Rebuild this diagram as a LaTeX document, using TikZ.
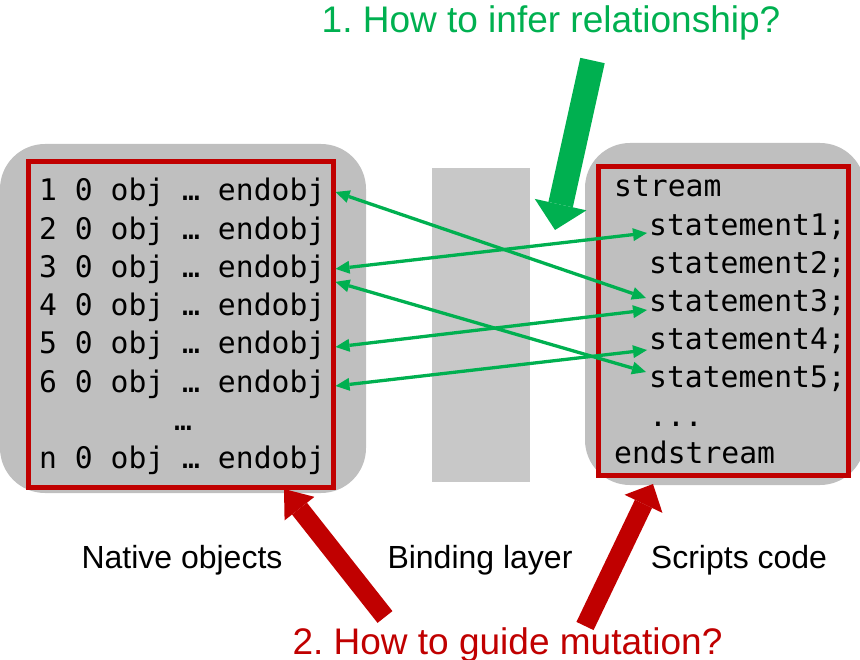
\documentclass[tikz,border=0pt]{standalone}
\usepackage{fontspec}
\setmainfont{Liberation Sans}
\newfontfamily\codefont{DejaVu Sans Mono}
\usetikzlibrary{arrows.meta,calc}
\frenchspacing

\definecolor{boxgray}{HTML}{BFBFBF}
\definecolor{layergray}{HTML}{C8C8C8}
\definecolor{hotred}{HTML}{C00000}
\definecolor{linkgreen}{HTML}{00B050}

\begin{document}
\begin{tikzpicture}[x=1pt,y=-1pt,
  panel/.style={fill=boxgray, rounded corners=45pt, inner sep=0pt},
  frame/.style={draw=hotred, line width=5pt, inner sep=0pt},
  codeline/.style={font=\codefont\fontsize{29.7}{30}\selectfont, anchor=base west,
                   inner sep=0pt, text height=21pt, text depth=6pt},
  partlabel/.style={font=\fontsize{32}{34}\selectfont, anchor=base, inner sep=0pt},
  question/.style={font=\fontsize{37}{40}\selectfont, anchor=base, inner sep=0pt},
  link/.style={draw=linkgreen, line width=3.3pt,
    {Triangle[length=14pt,width=13pt,line width=0pt]}-{Triangle[length=14pt,width=13pt,line width=0pt]}},
  fatarrow/.style={line width=#1, line cap=butt}
]
\useasboundingbox (0,0) rectangle (860,660);
\clip (0,0) rectangle (860,660);

% panels and the binding layer
\node[panel, minimum width=366pt, minimum height=349pt] (lpanel) at (183,318.5) {};
\node[panel, minimum width=280pt, minimum height=342pt] (rpanel) at (725,314) {};
\node[fill=layergray, inner sep=0pt, minimum width=98pt, minimum height=314pt] (layer) at (481,325) {};

% red frames
\node[frame, minimum width=305pt, minimum height=325pt] (lred) at (180.5,324.5) {};
\node[frame, minimum width=250pt, minimum height=308pt] (rred) at (723,321) {};

% native objects
\node[codeline] (o1) at (39,201)   {1 0 obj … endobj};
\node[codeline] (o2) at (39,239.2) {2 0 obj … endobj};
\node[codeline] (o3) at (39,277.4) {3 0 obj … endobj};
\node[codeline] (o4) at (39,315.6) {4 0 obj … endobj};
\node[codeline] (o5) at (39,353.8) {5 0 obj … endobj};
\node[codeline] (o6) at (39,392)   {6 0 obj … endobj};
\node[codeline, anchor=base] (odots) at (183,430.2) {…};
\node[codeline] (on) at (39,468.4) {n 0 obj … endobj};

% script stream
\node[codeline] (stream) at (614,197) {stream};
\node[codeline] (s1) at (649,236) {statement1;};
\node[codeline] (s2) at (649,274) {statement2;};
\node[codeline] (s3) at (649,312) {statement3;};
\node[codeline] (s4) at (649,350) {statement4;};
\node[codeline] (s5) at (649,388) {statement5;};
\node[codeline] (sdots) at (649,426) {...};
\node[codeline] (endstream) at (614,464) {endstream};

% relationships between objects and statements
\draw[link] ($(o1.east -| lred.east)+(0,-1.5)$) -- ($(s3.west)+(-3,-6.5)$);
\draw[link] ($(o3.east -| lred.east)+(0,-1)$)   -- ($(s1.west)+(-2,4.5)$);
\draw[link] ($(o3.east -| lred.east)+(0,12)$)   -- ($(s5.west)+(-3,-8.5)$);
\draw[link] ($(o5.east -| lred.east)+(0,0.7)$)  -- ($(s3.west)+(-2,5.5)$);
\draw[link] ($(o6.east -| lred.east)+(0,1.5)$)  -- ($(s4.west)+(-2,7.5)$);

% captions
\node[partlabel] (lnative) at (182,568) {Native objects};
\node[partlabel] (lbinding) at (480,568) {Binding layer};
\node[partlabel] (lscripts) at (739,568) {Scripts code};

% questions
\node[question, text=linkgreen] (q1) at (551,33) {1. How to infer relationship?};
\node[question, text=hotred] (q2) at (507.5,654) {2. How to guide mutation?};

% big arrows
\coordinate (g0) at (592.5,60.5);
\coordinate (g1) at (555,230);
\draw[fatarrow=25pt, linkgreen, -{Triangle[length=26pt,width=53pt,line width=0pt]}] (g0) -- (g1);

\coordinate (r0) at (385,617);
\coordinate (r1) at (284,489);
\draw[fatarrow=19pt, hotred, -{Triangle[length=25pt,width=38pt,line width=0pt]}] (r0) -- (r1);

\coordinate (r2) at (585,626);
\coordinate (r3) at (653,484);
\draw[fatarrow=19pt, hotred, -{Triangle[length=22pt,width=42pt,line width=0pt]}] (r2) -- (r3);
\end{tikzpicture}
\end{document}
